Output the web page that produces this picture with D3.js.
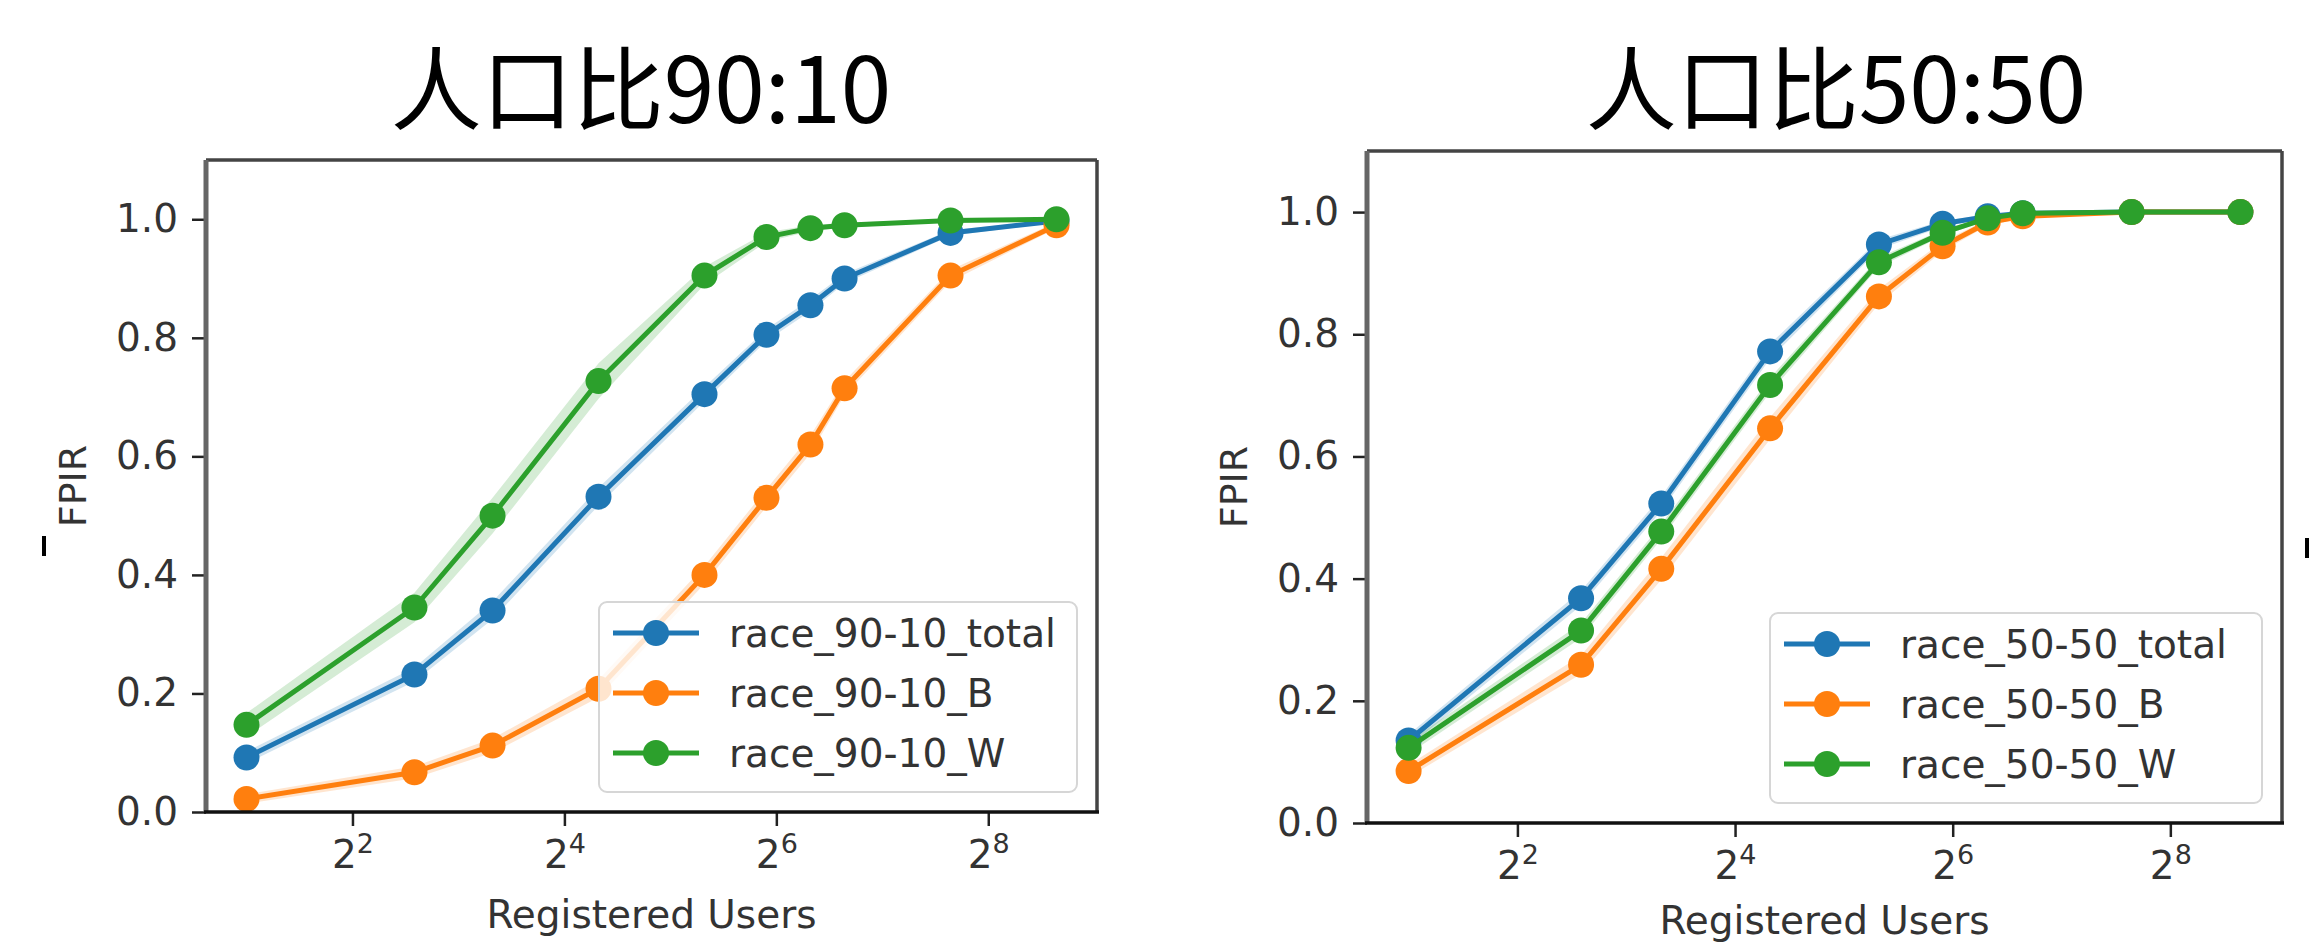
<!DOCTYPE html>
<html>
<head>
<meta charset="utf-8">
<script src="https://cdn.jsdelivr.net/npm/d3@7"></script>
<style>
  body { margin: 0; background: #fff; }
  svg text { font-family: "DejaVu Sans", sans-serif; }
</style>
</head>
<body>
<svg id="chart" width="2323" height="946"></svg>
<script>
// registered users (x) and axis ticks
const users = [2, 6, 10, 20, 40, 60, 80, 100, 200, 400];
const xTicks = [4, 16, 64, 256];
const yTicks = [0, 0.2, 0.4, 0.6, 0.8, 1.0];

// 90:10 population
const fpir9010Total = [0.092, 0.232, 0.34, 0.532, 0.705, 0.805, 0.855, 0.90, 0.977, 0.997];
const fpir9010B     = [0.022, 0.067, 0.112, 0.208, 0.40, 0.53, 0.62, 0.715, 0.905, 0.99];
const fpir9010W     = [0.147, 0.345, 0.50, 0.727, 0.905, 0.97, 0.985, 0.99, 0.998, 1.0];
const spread9010Total = [0.01, 0.012, 0.015, 0.015, 0.012, 0.01, 0.01, 0.008, 0.005, 0.002];
const spread9010B     = [0.008, 0.01, 0.012, 0.015, 0.015, 0.015, 0.015, 0.012, 0.01, 0.005];
const spread9010W     = [0.02, 0.025, 0.03, 0.03, 0.015, 0.008, 0.005, 0.004, 0.002, 0.001];

// 50:50 population
const fpir5050Total = [0.135, 0.368, 0.523, 0.772, 0.947, 0.981, 0.993, 0.998, 1.0, 1.0];
const fpir5050B     = [0.085, 0.259, 0.416, 0.646, 0.862, 0.944, 0.983, 0.993, 1.0, 1.0];
const fpir5050W     = [0.123, 0.315, 0.477, 0.717, 0.918, 0.966, 0.99, 0.998, 1.0, 1.0];
const spread5050Total = [0.01, 0.012, 0.012, 0.012, 0.008, 0.005, 0.003, 0.002, 0.001, 0.001];
const spread5050B     = [0.01, 0.015, 0.018, 0.018, 0.012, 0.008, 0.005, 0.003, 0.001, 0.001];
const spread5050W     = [0.01, 0.012, 0.012, 0.012, 0.008, 0.005, 0.003, 0.002, 0.001, 0.001];

const names9010 = ["race_90-10_total", "race_90-10_B", "race_90-10_W"];
const names5050 = ["race_50-50_total", "race_50-50_B", "race_50-50_W"];
const colors = ["#1f77b4", "#ff7f0e", "#2ca02c"];

const panels = [
  { title: "人口比90:10", names: names9010,
    values: [fpir9010Total, fpir9010B, fpir9010W],
    spread: [spread9010Total, spread9010B, spread9010W],
    left: 206, right: 1097, top: 160, bottom: 812, titleX: 641, legendW: 478, xlabelGap: 116 },
  { title: "人口比50:50", names: names5050,
    values: [fpir5050Total, fpir5050B, fpir5050W],
    spread: [spread5050Total, spread5050B, spread5050W],
    left: 1367, right: 2282, top: 151, bottom: 823, titleX: 1836, legendW: 492, xlabelGap: 111 }
];

// matplotlib-style 5% margin in log space
const lx0 = Math.log2(d3.min(users)), lx1 = Math.log2(d3.max(users));
const pad = (lx1 - lx0) * 0.05;
const xDomain = [2 ** (lx0 - pad), 2 ** (lx1 + pad)];

const svg = d3.select("#chart");

function drawPanel(p) {
  const x = d3.scaleLog().base(2).domain(xDomain).range([p.left, p.right]);
  const y = d3.scaleLinear().domain([0, 1.1]).range([p.bottom, p.top]);
  const g = svg.append("g");

  // title
  g.append("text")
    .attr("x", p.titleX).attr("y", 123)
    .attr("text-anchor", "middle")
    .style("font-family", "'Noto Sans CJK SC', sans-serif")
    .style("font-size", "91px")
    .attr("fill", "#000")
    .text(p.title);

  // confidence bands
  p.values.forEach((vals, i) => {
    const area = d3.area()
      .x((d, j) => x(users[j]))
      .y0((d, j) => y(d - p.spread[i][j]))
      .y1((d, j) => y(d + p.spread[i][j]));
    g.append("path").datum(vals)
      .attr("d", area)
      .attr("fill", colors[i])
      .attr("opacity", 0.2);
  });

  // lines + markers
  p.values.forEach((vals, i) => {
    const line = d3.line().x((d, j) => x(users[j])).y(d => y(d));
    g.append("path").datum(vals)
      .attr("d", line)
      .attr("fill", "none")
      .attr("stroke", colors[i])
      .attr("stroke-width", 5);
    g.selectAll(null).data(vals).enter().append("circle")
      .attr("cx", (d, j) => x(users[j]))
      .attr("cy", d => y(d))
      .attr("r", 13)
      .attr("fill", colors[i]);
  });

  // axes
  const xAxis = d3.axisBottom(x).tickValues(xTicks).tickSize(14).tickFormat("");
  const xg = g.append("g")
    .attr("transform", `translate(0,${p.bottom})`)
    .call(xAxis);
  xg.select(".domain").remove();
  xg.selectAll(".tick line").attr("stroke", "#222").attr("stroke-width", 2.5);
  xg.selectAll(".tick").each(function (d) {
    const t = d3.select(this).append("text")
      .attr("y", 56)
      .attr("text-anchor", "middle")
      .attr("fill", "#333")
      .style("font-size", "39px");
    t.append("tspan").text("2");
    t.append("tspan").attr("dy", -15).style("font-size", "27px").text(Math.log2(d));
  });

  const yAxis = d3.axisLeft(y).tickValues(yTicks).tickSize(14).tickPadding(14)
    .tickFormat(d3.format(".1f"));
  const yg = g.append("g")
    .attr("transform", `translate(${p.left},0)`)
    .call(yAxis);
  yg.select(".domain").remove();
  yg.selectAll(".tick line").attr("stroke", "#222").attr("stroke-width", 2.5);
  yg.selectAll(".tick text")
    .attr("fill", "#333")
    .style("font-size", "39px")
    .style("font-family", "'DejaVu Sans', sans-serif");

  // axis labels
  g.append("text")
    .attr("x", (p.left + p.right) / 2).attr("y", p.bottom + p.xlabelGap)
    .attr("text-anchor", "middle")
    .attr("fill", "#333")
    .style("font-size", "39px")
    .text("Registered Users");
  g.append("text")
    .attr("transform", `translate(${p.left - 120},${(p.top + p.bottom) / 2}) rotate(-90)`)
    .attr("text-anchor", "middle")
    .attr("fill", "#333")
    .style("font-size", "38px")
    .text("FPIR");

  // spines
  g.append("line").attr("x1", p.left).attr("x2", p.right).attr("y1", p.top).attr("y2", p.top)
    .attr("stroke", "#444").attr("stroke-width", 3.5);
  g.append("line").attr("x1", p.right).attr("x2", p.right).attr("y1", p.top).attr("y2", p.bottom)
    .attr("stroke", "#444").attr("stroke-width", 3.5);
  g.append("line").attr("x1", p.left).attr("x2", p.left).attr("y1", p.top).attr("y2", p.bottom)
    .attr("stroke", "#666").attr("stroke-width", 5);
  g.append("line").attr("x1", p.left - 2).attr("x2", p.right + 2).attr("y1", p.bottom).attr("y2", p.bottom)
    .attr("stroke", "#111").attr("stroke-width", 3.5);

  // legend
  const lw = p.legendW, lh = 190;
  const lg = g.append("g")
    .attr("transform", `translate(${p.right - 20 - lw},${p.bottom - 20 - lh})`);
  lg.append("rect")
    .attr("width", lw).attr("height", lh).attr("rx", 8)
    .attr("fill", "#fff").attr("fill-opacity", 0.8)
    .attr("stroke", "#d6d6d6").attr("stroke-width", 2);
  p.names.forEach((name, i) => {
    const row = lg.append("g").attr("transform", `translate(0,${31 + i * 60})`);
    row.append("line").attr("x1", 14).attr("x2", 100)
      .attr("stroke", colors[i]).attr("stroke-width", 5);
    row.append("circle").attr("cx", 57).attr("r", 13).attr("fill", colors[i]);
    row.append("text").attr("x", 130).attr("y", 14)
      .attr("fill", "#333")
      .style("font-size", "39px")
      .text(name);
  });
}

panels.forEach(drawPanel);

// small stray marks next to the panels
svg.append("line").attr("x1", 44).attr("x2", 44).attr("y1", 536).attr("y2", 556)
  .attr("stroke", "#000").attr("stroke-width", 4);
svg.append("line").attr("x1", 2307).attr("x2", 2307).attr("y1", 538).attr("y2", 558)
  .attr("stroke", "#000").attr("stroke-width", 4);
</script>
</body>
</html>
